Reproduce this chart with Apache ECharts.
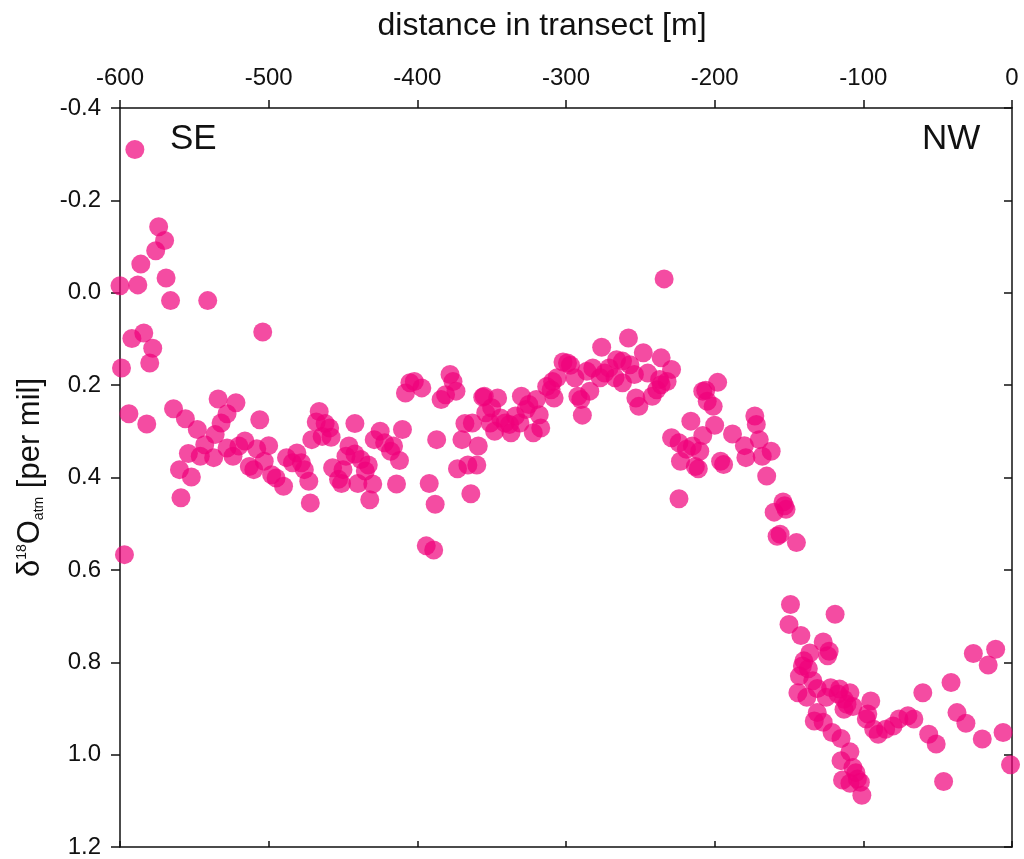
<!DOCTYPE html>
<html>
<head>
<meta charset="utf-8">
<script src="https://cdn.jsdelivr.net/npm/echarts@6/dist/echarts.min.js"></script>
<style>
  html, body { margin: 0; padding: 0; background: #fff; }
  #chart { width: 1024px; height: 859px; }
</style>
</head>
<body>
<div id="chart"></div>
<script>
  // distance along the transect [m]
  const distance = [
    -590, -600, -588, -586, -574, -570, -576, -569, -566, -541, -504, -592, -584, -578, -580, -599,
    -594, -582, -564, -556, -548, -534, -522, -528, -532, -536, -506, -554, -546, -543, -537, -528,
    -524, -516, -520, -508, -500, -513, -510, -503, -498, -495, -490, -488, -484, -560, -552, -559, -597,
    -405, -402, -397, -408, -378, -376, -374, -384, -381, -356, -354, -368, -363, -370, -359, -373,
    -366, -360, -364, -387, -392, -388, -394, -389, -410, -412, -414, -425, -429, -422, -416, -418,
    -432, -430, -435, -433, -440, -438, -446, -448, -442, -450, -451, -453, -457, -442, -466, -468,
    -462, -459, -458, -471, -464, -481, -478, -476, -473, -472,
    -234, -258, -276, -248, -236, -229, -299, -302, -297, -266, -262, -257, -282, -286, -271, -274,
    -277, -267, -262, -254, -245, -237, -236, -239, -242, -253, -251, -284, -292, -290, -289, -294,
    -313, -309, -306, -310, -308, -320, -330, -325, -327, -318, -317, -322, -334, -331, -337, -346,
    -355, -350, -344, -351, -341, -338, -348, -229, -224, -219, -215, -223, -213, -216, -208, -232,
    -198, -206, -205, -201, -200, -208, -210, -211, -224, -188, -173, -172, -170, -180, -162, -168,
    -179, -196, -194, -165, -153, -160, -156, -145, -154, -152, -158,
    -149, -119, -150, -142, -127, -123, -124, -136, -140, -141, -137, -143, -134, -131, -144, -138,
    -122, -116, -109, -125, -117, -113, -111, -107, -113, -95, -97, -98, -93, -90, -85, -80,
    -76, -70, -66, -60, -56, -51, -46, -41, -37, -31, -26, -16, -11, -20, -6, -1,
    -131, -133, -127, -121, -115, -109, -115, -107, -105, -114, -109, -102, -104, -101
  ]

  // delta 18O of atmospheric O2 [per mil]
  const delta = [
    -0.31, -0.015, -0.017, -0.062, -0.143, -0.113, -0.091, -0.032, 0.017, 0.017, 0.085, 0.099, 0.087, 0.120, 0.152, 0.163,
    0.262, 0.284, 0.251, 0.273, 0.296, 0.230, 0.238, 0.262, 0.282, 0.307, 0.275, 0.348, 0.354, 0.329, 0.357, 0.336,
    0.354, 0.321, 0.332, 0.338, 0.331, 0.376, 0.383, 0.365, 0.394, 0.401, 0.419, 0.357, 0.368, 0.383, 0.399, 0.444, 0.567,
    0.195, 0.192, 0.206, 0.217, 0.177, 0.192, 0.213, 0.231, 0.221, 0.226, 0.260, 0.283, 0.282, 0.318, 0.332, 0.381,
    0.373, 0.373, 0.435, 0.318, 0.413, 0.458, 0.548, 0.557, 0.296, 0.363, 0.414, 0.300, 0.318, 0.325, 0.332, 0.343,
    0.448, 0.414, 0.386, 0.373, 0.413, 0.361, 0.332, 0.354, 0.349, 0.383, 0.413, 0.404, 0.379, 0.283, 0.257, 0.280,
    0.283, 0.293, 0.313, 0.318, 0.311, 0.347, 0.368, 0.383, 0.408, 0.455,
    -0.030, 0.098, 0.118, 0.130, 0.141, 0.166, 0.152, 0.150, 0.157, 0.145, 0.148, 0.156, 0.163, 0.170, 0.163, 0.174,
    0.184, 0.184, 0.195, 0.177, 0.174, 0.188, 0.199, 0.210, 0.224, 0.228, 0.246, 0.213, 0.224, 0.231, 0.265, 0.184,
    0.203, 0.192, 0.184, 0.210, 0.228, 0.231, 0.224, 0.242, 0.253, 0.264, 0.293, 0.303, 0.267, 0.282, 0.303, 0.228,
    0.224, 0.249, 0.271, 0.282, 0.282, 0.285, 0.300, 0.314, 0.325, 0.339, 0.332, 0.365, 0.376, 0.278, 0.213, 0.192,
    0.194, 0.211, 0.235, 0.246, 0.287, 0.309, 0.343, 0.381, 0.446, 0.306, 0.267, 0.285, 0.318, 0.331, 0.343, 0.354,
    0.357, 0.365, 0.372, 0.397, 0.461, 0.475, 0.523, 0.541, 0.453, 0.469, 0.527,
    0.675, 0.696, 0.718, 0.742, 0.756, 0.776, 0.786, 0.780, 0.797, 0.808, 0.814, 0.830, 0.840, 0.857, 0.866, 0.876,
    0.855, 0.858, 0.866, 0.876, 0.869, 0.880, 0.891, 0.896, 0.902, 0.884, 0.912, 0.923, 0.945, 0.956, 0.945, 0.938,
    0.923, 0.916, 0.923, 0.866, 0.956, 0.977, 1.058, 0.844, 0.909, 0.932, 0.781, 0.806, 0.772, 0.966, 0.952, 1.022,
    0.909, 0.927, 0.930, 0.952, 0.965, 0.994, 1.013, 1.028, 1.039, 1.055, 1.062, 1.060, 1.053, 1.088
  ]

  const xTicks = { min: -600, max: 0, interval: 100 }
  const yTicks = { min: -0.4, max: 1.2, interval: 0.2 }

  const points = distance.map((d, i) => [d, delta[i]])

  const font = '"Liberation Sans", Arial, Helvetica, sans-serif'
  const axisLine = { show: true, onZero: false, lineStyle: { color: '#111', width: 1.5 } }

  const chart = echarts.init(document.getElementById('chart'))

  chart.setOption({
    animation: false,
    backgroundColor: '#fff',
    grid: { left: 120, right: 12, top: 108, bottom: 11 },
    xAxis: [
      {
        type: 'value',
        position: 'top',
        min: xTicks.min,
        max: xTicks.max,
        interval: xTicks.interval,
        name: 'distance in transect [m]',
        nameLocation: 'middle',
        nameGap: 66,
        nameTextStyle: { fontFamily: font, fontSize: 32, color: '#111', padding: [0, 48, 0, 0] },
        axisLine: axisLine,
        axisTick: { show: true, inside: false, length: 8, lineStyle: { color: '#111', width: 1.5 } },
        axisLabel: { fontFamily: font, fontSize: 24, color: '#111', margin: 18 },
        splitLine: { show: false }
      },
      {
        type: 'value',
        position: 'bottom',
        min: xTicks.min,
        max: xTicks.max,
        interval: xTicks.interval,
        axisLine: axisLine,
        axisTick: { show: true, inside: true, length: 6, lineStyle: { color: '#111', width: 1.5 } },
        axisLabel: { show: false },
        splitLine: { show: false }
      }
    ],
    yAxis: [
      {
        type: 'value',
        position: 'left',
        inverse: true,
        min: yTicks.min,
        max: yTicks.max,
        interval: yTicks.interval,
        name: '{d|δ}{sup|18}{o|O}{sub|atm}{t| [per mil]}',
        nameLocation: 'middle',
        nameGap: 74,
        nameRotate: 90,
        nameTextStyle: {
          fontFamily: font,
          color: '#111',
          rich: {
            d: { fontFamily: font, fontSize: 31, color: '#111' },
            o: { fontFamily: font, fontSize: 31, color: '#111' },
            t: { fontFamily: font, fontSize: 31, color: '#111' },
            sup: { fontFamily: font, fontSize: 14, color: '#111', verticalAlign: 'top', padding: [0, 0, 14, 0] },
            sub: { fontFamily: font, fontSize: 14, color: '#111', verticalAlign: 'bottom', padding: [12, 0, 0, 0] }
          }
        },
        axisLine: axisLine,
        axisTick: { show: true, inside: false, length: 9, lineStyle: { color: '#111', width: 1.5 } },
        axisLabel: {
          fontFamily: font,
          fontSize: 24,
          color: '#111',
          margin: 19,
          formatter: v => v.toFixed(1)
        },
        splitLine: { show: false }
      },
      {
        type: 'value',
        position: 'right',
        inverse: true,
        min: yTicks.min,
        max: yTicks.max,
        interval: yTicks.interval,
        axisLine: axisLine,
        axisTick: { show: true, inside: true, length: 8, lineStyle: { color: '#111', width: 1.5 } },
        axisLabel: { show: false },
        splitLine: { show: false }
      }
    ],
    graphic: [
      { type: 'text', left: 170, top: 122, style: { text: 'SE', fontFamily: font, fontSize: 35, fill: '#111' } },
      { type: 'text', left: 922, top: 122, style: { text: 'NW', fontFamily: font, fontSize: 35, fill: '#111' } }
    ],
    series: [
      {
        type: 'scatter',
        xAxisIndex: 0,
        yAxisIndex: 0,
        data: points,
        symbol: 'circle',
        symbolSize: 19,
        itemStyle: { color: 'rgb(240, 0, 122)', opacity: 0.7 }
      }
    ]
  })
</script>
</body>
</html>
